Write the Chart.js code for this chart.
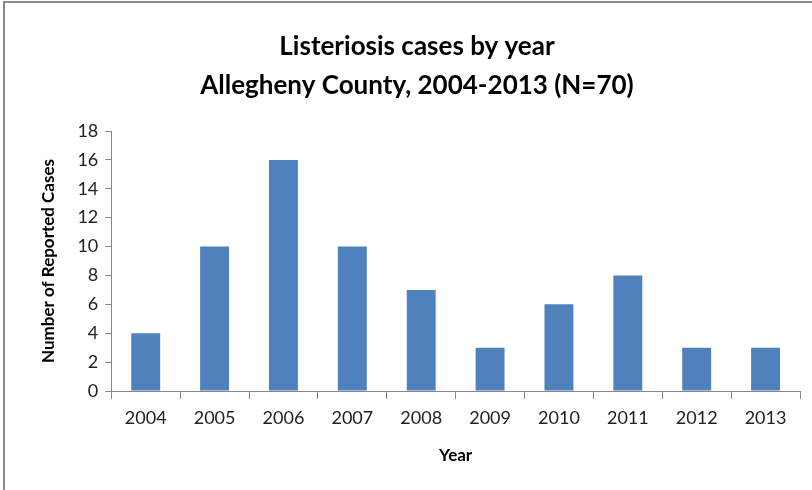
<!DOCTYPE html>
<html>
<head>
<meta charset="utf-8">
<script src="https://cdn.jsdelivr.net/npm/chart.js@4"></script>
<style>
  body { margin: 0; background: #fff; }
  #wrap { position: absolute; left: 3px; top: 1px; width: 809px; height: 489px;
          border-top: 2px solid #8a8a8a; border-left: 2px solid #8a8a8a; }
  canvas { display: block; }
</style>
</head>
<body>
<div id="wrap"><canvas id="grafico" width="807" height="487"></canvas></div>
<script>
const years = ['2004', '2005', '2006', '2007', '2008', '2009', '2010', '2011', '2012', '2013'];
const cases = [4, 10, 16, 10, 7, 3, 6, 8, 3, 3];
const titleLines = ['Listeriosis cases by year', 'Allegheny County, 2004-2013 (N=70)'];

const fontFam = 'Lato, "Open Sans", sans-serif';
const axisGray = '#868686';

const ctx = document.getElementById('grafico');
new Chart(ctx, {
    type: 'bar',
    data: {
        labels: years,
        datasets: [{
            label: 'Cases',
            data: cases,
            backgroundColor: '#4F81BD',
            borderWidth: 0,
            barPercentage: 0.42,
            categoryPercentage: 1
        }]
    },
    options: {
        responsive: false,
        animation: false,
        devicePixelRatio: 1,
        layout: { padding: { left: 29, right: 12, top: 24, bottom: 20 } },
        plugins: {
            legend: { display: false },
            tooltip: { enabled: false },
            title: {
                display: true,
                text: titleLines,
                color: '#000',
                font: { family: fontFam, size: 26, weight: 'bold', lineHeight: 1.5 },
                padding: { top: 0, bottom: 26 }
            }
        },
        scales: {
            y: {
                min: 0,
                max: 18,
                ticks: { stepSize: 2, color: '#222', font: { family: fontFam, size: 18 }, padding: 7 },
                grid: { drawOnChartArea: false, tickLength: 6, color: axisGray },
                border: { color: axisGray, width: 1 },
                title: {
                    display: true,
                    text: 'Number of Reported Cases',
                    color: '#000',
                    font: { family: fontFam, size: 17, weight: 'bold' },
                    padding: { top: 4, bottom: 12 }
                }
            },
            x: {
                ticks: { color: '#222', font: { family: fontFam, size: 18 }, padding: 8 },
                grid: { drawOnChartArea: false, tickLength: 8, color: axisGray, offset: true },
                border: { color: axisGray, width: 1 },
                title: {
                    display: true,
                    text: 'Year',
                    color: '#000',
                    font: { family: fontFam, size: 17, weight: 'bold' },
                    padding: { top: 9 }
                }
            }
        }
    }
});
</script>
</body>
</html>
